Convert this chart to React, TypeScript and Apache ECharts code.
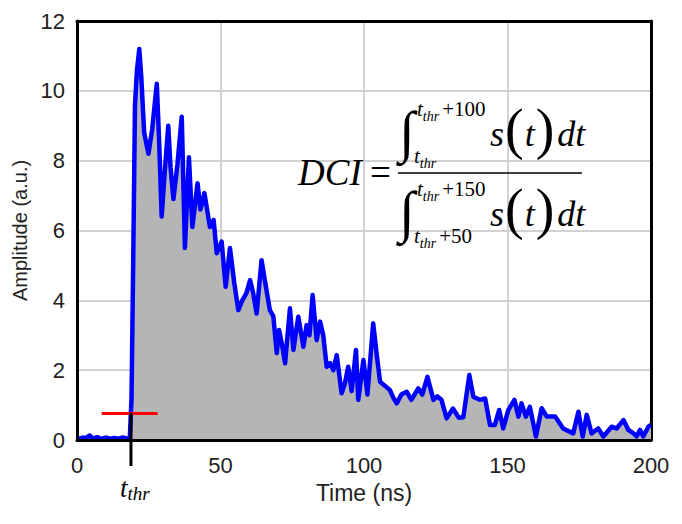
import React, { useEffect, useRef } from "react";
import * as echarts from "echarts";

const TIME_NS = [
  0, 1, 2, 3, 4.4, 5.5, 7, 8.5, 10, 11.5, 13, 14.5, 16, 17.5, 18.4, 19.0, 19.6, 20.2, 20.9, 21.7,
  22.4, 23.4, 24.9, 26.2, 27.8, 28.6, 29.5, 30.5, 31.8, 32.6, 33.6, 35.0, 36.5, 37.6, 39.0, 40.2,
  42.0, 43.0, 44.4, 46.3, 47.6, 48.7, 50.4, 51.8, 53.3, 54.8, 56.2, 57.6, 59.0, 60.3, 61.4, 62.6,
  64.3, 65.6, 67.2, 68.4, 69.6, 70.4, 71.5, 72.5, 74.2, 75.4, 77.1, 78.9, 80.0, 81.0, 82.1, 83.5,
  84.7, 85.8, 87.0, 88.2, 89.3, 90.5, 92.2, 93.3, 94.5, 95.7, 97.2, 98.0, 99.8, 101.2, 103.2, 104.5,
  105.6, 107.3, 109.0, 110.3, 111.4, 113.0, 114.9, 116.5, 118.9, 120.3, 122.1, 124.2, 125.5, 127.0,
  128.8, 131.0, 133.0, 134.6, 136.7, 138.1, 140.3, 142.2, 143.9, 145.6, 147.1, 148.5, 150.3, 152.4,
  153.8, 154.9, 156.4, 157.8, 159.9, 161.9, 163.7, 166.6, 169.4, 172.9, 174.7, 176.2, 177.6, 179.3,
  181.6, 183.4, 186.3, 188.0, 190.4, 192.1, 193.9, 195.0, 196.2, 197.3, 199.1, 200
];

const AMPLITUDE = [
  0.06, 0.04, 0.07, 0.05, 0.13, 0.04, 0.08, 0.03, 0.07, 0.04, 0.06, 0.04, 0.07, 0.04, 0.05, 1.2, 5.2, 9.6, 10.6, 11.2,
  10.4, 8.8, 8.2, 8.9, 10.2, 8.6, 6.4, 7.6, 9.0, 7.8, 6.9, 7.9, 9.26, 5.5, 8.1, 6.1,
  7.35, 6.6, 7.07, 6.1, 6.3, 5.35, 5.68, 4.39, 5.5, 4.5, 3.72, 4.0, 4.2, 4.58, 4.2, 3.62,
  5.15, 4.5, 3.72, 3.55, 2.49, 3.15, 2.7, 2.2, 3.77, 2.58, 3.53, 2.67, 3.29, 3.0, 4.15, 2.86,
  3.39, 3.0, 2.1, 2.2, 2.0, 2.43, 1.34, 1.6, 2.1, 1.4, 2.58, 1.15, 2.29, 1.3, 3.34, 2.4,
  1.67, 1.55, 1.43, 1.2, 1.05, 1.3, 1.38, 1.15, 1.48, 1.3, 1.81, 1.15, 1.25, 1.15,
  0.62, 0.9, 0.64, 0.65, 1.86, 1.24, 1.15, 1.19, 0.43, 0.43, 0.86, 0.33, 0.86, 1.15,
  0.67, 1.05, 0.67, 0.95, 0.1, 0.91, 0.67, 0.67, 0.33, 0.19, 0.81, 0.1, 0.72, 0.19,
  0.33, 0.1, 0.38, 0.33, 0.57, 0.29, 0.19, 0.1, 0.29, 0.1, 0.38, 0.43
];

const X_MIN = 0;
const X_MAX = 200;
const X_STEP = 50;
const Y_MIN = 0;
const Y_MAX = 12;
const Y_STEP = 2;

const T_THR = 18.8;
const THRESHOLD = 0.78;
const THRESHOLD_SPAN = [8.6, 28.1];

const X_NAME = "Time (ns)";
const Y_NAME = "Amplitude (a.u.)";

const SANS = '"Liberation Sans", Arial, Helvetica, sans-serif';
const SERIF = '"Liberation Serif", "Times New Roman", serif';

function txt(x: number, y: number, text: string, size: number, italic: boolean, align = "left", va = "middle") {
  return {
    type: "text", x, y, silent: true, z: 100,
    style: {
      text, fontSize: size, fontFamily: SERIF,
      fontStyle: italic ? "italic" : "normal",
      fill: "#000", align, verticalAlign: va,
    },
  };
}

function rich(x: number, y: number, text: string, richStyles: any) {
  return {
    type: "text", x, y, silent: true, z: 100,
    style: {
      text, fontFamily: SERIF, fill: "#000",
      align: "left", verticalAlign: "middle",
      rich: richStyles,
    },
  };
}

const LIMIT_RICH = {
  t: { fontSize: 21, fontStyle: "italic", fontFamily: SERIF, lineHeight: 28, fill: "#000" },
  s: { fontSize: 14, fontStyle: "italic", fontFamily: SERIF, lineHeight: 15, verticalAlign: "bottom", fill: "#000" },
  n: { fontSize: 21, fontFamily: SERIF, lineHeight: 28, padding: [0, 0, 0, 3], fill: "#000" },
};

const BODY_RICH = {
  a: { fontSize: 36, fontStyle: "italic", fontFamily: SERIF, fill: "#000" },
  p: { fontSize: 56, fontFamily: SERIF, padding: [0, 1, 10, 1], fill: "#000" },
  b: { fontSize: 36, fontStyle: "italic", fontFamily: SERIF, padding: [0, 0, 0, 2], fill: "#000" },
};

export default function App() {
  const ref = useRef<HTMLDivElement>(null);

  useEffect(() => {
    document.body.style.margin = "0";
    const chart = echarts.init(ref.current!, null, { renderer: "svg" });
    const data = TIME_NS.map((t, i) => [t, AMPLITUDE[i]]);
    const frameLine = { show: true, onZero: false, lineStyle: { color: "#000", width: 3 } };
    const gridLine = { show: true, lineStyle: { color: "#d2d2d2", width: 2 } };
    const labelStyle = { color: "#222", fontSize: 22, fontFamily: SANS };

    chart.setOption({
      animation: false,
      backgroundColor: "#fff",
      grid: { left: 77, right: 31, top: 21, bottom: 84 },
      xAxis: [
        {
          type: "value", min: X_MIN, max: X_MAX, interval: X_STEP, position: "bottom",
          axisLine: frameLine, axisTick: { show: false }, splitLine: { show: false },
          axisLabel: { ...labelStyle, margin: 14 },
          name: X_NAME, nameLocation: "middle", nameGap: 41,
          nameTextStyle: { color: "#222", fontSize: 23, fontFamily: SANS },
          z: 5,
        },
        {
          type: "value", min: X_MIN, max: X_MAX, interval: X_STEP, position: "top",
          axisLine: frameLine, axisTick: { show: false }, axisLabel: { show: false },
          splitLine: gridLine, z: 0,
        },
      ],
      yAxis: [
        {
          type: "value", min: Y_MIN, max: Y_MAX, interval: Y_STEP, position: "left",
          axisLine: frameLine, axisTick: { show: false }, splitLine: { show: false },
          axisLabel: { ...labelStyle, margin: 12 },
          name: Y_NAME, nameLocation: "middle", nameGap: 45,
          nameTextStyle: { color: "#222", fontSize: 20, fontFamily: SANS },
          z: 5,
        },
        {
          type: "value", min: Y_MIN, max: Y_MAX, interval: Y_STEP, position: "right",
          axisLine: frameLine, axisTick: { show: false }, axisLabel: { show: false },
          splitLine: gridLine, z: 0,
        },
      ],
      series: [
        {
          type: "line",
          xAxisIndex: 0,
          yAxisIndex: 0,
          data,
          symbol: "none",
          showSymbol: false,
          lineStyle: { color: "#0000ff", width: 4.5, join: "round" },
          areaStyle: { color: "#b5b5b5", opacity: 1 },
          z: 2,
          markLine: {
            silent: true,
            symbol: "none",
            label: { show: false },
            lineStyle: { color: "#ff0000", width: 3, type: "solid" },
            data: [[{ coord: [THRESHOLD_SPAN[0], THRESHOLD] }, { coord: [THRESHOLD_SPAN[1], THRESHOLD] }]],
          },
        },
      ],
    });

    const pThr = chart.convertToPixel({ xAxisIndex: 0, yAxisIndex: 0 }, [T_THR, THRESHOLD]) as number[];
    const pZero = chart.convertToPixel({ xAxisIndex: 0, yAxisIndex: 0 }, [T_THR, 0]) as number[];
    const px = pThr[0];

    const graphic: any[] = [
      {
        type: "line", silent: true, z: 100,
        shape: { x1: px, y1: pThr[1], x2: px, y2: pZero[1] + 26 },
        style: { stroke: "#000", lineWidth: 3 },
      },
      rich(px - 11, 488, "{t|t}{s|thr}", {
        t: { fontSize: 27, fontStyle: "italic", fontFamily: SERIF, lineHeight: 30, fill: "#000" },
        s: { fontSize: 19, fontStyle: "italic", fontFamily: SERIF, lineHeight: 20, verticalAlign: "bottom", fill: "#000" },
      }),

      // DCI =
      txt(298, 172, "DCI", 37, true, "left", "middle"),
      txt(370, 172, "=", 37, false, "left", "middle"),
      {
        type: "line", silent: true, z: 100,
        shape: { x1: 398, y1: 173, x2: 582, y2: 173 },
        style: { stroke: "#000", lineWidth: 1.5 },
      },

      // numerator
      txt(399, 131, "\u222B", 57, false, "left", "middle"),
      rich(417, 109, "{t|t}{s|thr}{n|+100}", LIMIT_RICH),
      rich(414, 156, "{t|t}{s|thr}", LIMIT_RICH),
      rich(490, 134, "{a|s}{p|(}{a|t}{p|)}{b|dt}", BODY_RICH),

      // denominator
      txt(399, 211, "\u222B", 57, false, "left", "middle"),
      rich(417, 189, "{t|t}{s|thr}{n|+150}", LIMIT_RICH),
      rich(414, 236, "{t|t}{s|thr}{n|+50}", LIMIT_RICH),
      rich(490, 214, "{a|s}{p|(}{a|t}{p|)}{b|dt}", BODY_RICH),
    ];

    chart.setOption({ graphic });

    return () => chart.dispose();
  }, []);

  return <div ref={ref} style={{ width: 682, height: 524 }} />;
}
